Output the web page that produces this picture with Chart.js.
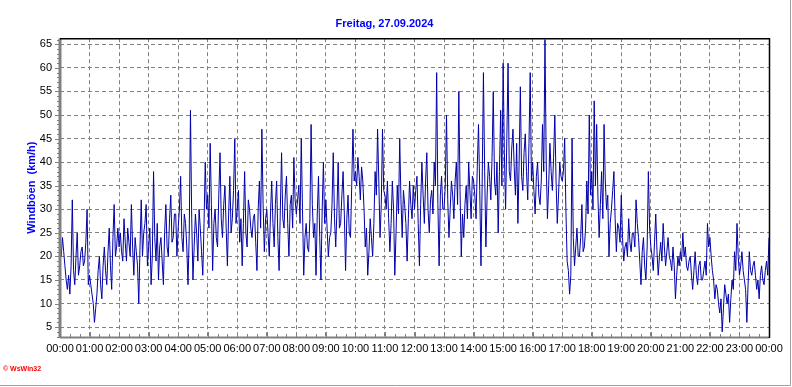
<!DOCTYPE html>
<html>
<head>
<meta charset="utf-8">
<script src="https://cdn.jsdelivr.net/npm/chart.js@4.4.0/dist/chart.umd.min.js"></script>
<style>
  html, body { margin: 0; padding: 0; background: #fff; }
</style>
</head>
<body>
<canvas id="wind-chart" width="792" height="387"></canvas>
<script>
// Hourly tick labels for the x axis
const hourLabels = ['00:00', '01:00', '02:00', '03:00', '04:00', '05:00', '06:00', '07:00',
    '08:00', '09:00', '10:00', '11:00', '12:00', '13:00', '14:00', '15:00', '16:00',
    '17:00', '18:00', '19:00', '20:00', '21:00', '22:00', '23:00', '00:00'];

const yTickValues = [5, 10, 15, 20, 25, 30, 35, 40, 45, 50, 55, 60, 65];

// Wind gusts (km/h), one reading every 2.5 minutes (24 per hour)
const minutesPerSample = 2.5;
const gusts = [
    22, 20, 24, 21, 18, 15, 13, 16, 12, 18, 32, 17, 14, 20, 25, 16, 18, 21, 22, 18, 19, 23, 30, 14,
    16, 14, 12, 10, 6, 9, 12, 17, 20, 14, 11, 18, 22, 17, 14, 21, 26, 18, 13, 24, 31, 20, 22, 26,
    22, 25, 21, 19, 28, 23, 19, 26, 23, 20, 31, 22, 16, 24, 21, 18, 10, 22, 32, 20, 25, 27, 31, 18,
    22, 26, 14, 20, 38, 24, 19, 27, 15, 22, 24, 19, 14, 25, 31, 22, 20, 28, 33, 23, 24, 29, 29, 20,
    26, 30, 37, 24, 21, 29, 27, 22, 14, 25, 51, 28, 15, 22, 29, 25, 19, 30, 26, 21, 16, 27, 40, 30,
    33, 26, 44, 31, 17, 27, 30, 24, 22, 33, 42, 28, 24, 31, 35, 26, 18, 29, 37, 25, 28, 34, 45, 27,
    30, 34, 23, 28, 18, 27, 38, 25, 22, 32, 30, 26, 24, 28, 29, 23, 17, 30, 36, 26, 47, 31, 21, 28,
    30, 25, 20, 29, 36, 27, 22, 31, 36, 24, 17, 30, 42, 28, 26, 33, 37, 27, 20, 31, 33, 26, 41, 32,
    29, 32, 35, 27, 45, 30, 16, 24, 27, 22, 21, 28, 48, 31, 24, 27, 16, 29, 37, 24, 15, 30, 40, 27,
    32, 26, 20, 24, 25, 31, 42, 28, 22, 30, 40, 26, 27, 33, 38, 29, 17, 28, 33, 25, 24, 35, 47, 36,
    38, 35, 41, 37, 32, 39, 36, 30, 22, 26, 16, 21, 28, 24, 20, 27, 38, 33, 47, 36, 24, 31, 47, 34,
    33, 30, 36, 28, 21, 27, 36, 30, 16, 25, 35, 29, 45, 32, 24, 34, 31, 27, 19, 28, 36, 31, 28, 35,
    30, 34, 37, 27, 18, 31, 40, 33, 27, 36, 42, 30, 25, 32, 34, 29, 40, 35, 59, 31, 18, 33, 37, 30,
    30, 35, 50, 32, 24, 30, 36, 33, 28, 36, 40, 31, 55, 34, 20, 29, 24, 31, 35, 28, 40, 34, 28, 37,
    36, 33, 28, 39, 48, 34, 18, 36, 59, 38, 22, 33, 40, 37, 32, 41, 55, 36, 33, 40, 25, 38, 51, 35,
    61, 42, 30, 45, 61, 38, 36, 43, 47, 39, 33, 44, 27, 40, 56, 37, 34, 42, 46, 38, 32, 44, 59, 36,
    40, 34, 29, 37, 40, 33, 31, 36, 48, 38, 66, 40, 28, 35, 44, 38, 34, 41, 50, 36, 27, 33, 40, 37,
    36, 38, 45, 30, 19, 17, 12, 16, 45, 24, 18, 22, 26, 20, 20, 24, 31, 21, 22, 26, 36, 29, 50, 33,
    38, 30, 53, 35, 48, 33, 24, 31, 38, 28, 48, 36, 30, 33, 20, 27, 30, 34, 38, 28, 21, 27, 26, 23,
    33, 24, 19, 22, 23, 20, 28, 23, 21, 25, 25, 22, 32, 27, 24, 19, 14, 21, 24, 18, 15, 22, 38, 26,
    22, 20, 17, 23, 29, 21, 16, 20, 23, 19, 27, 22, 18, 21, 24, 20, 19, 17, 22, 18, 11, 16, 20, 18,
    21, 19, 25, 20, 22, 18, 17, 19, 20, 16, 13, 17, 21, 16, 14, 18, 19, 15, 15, 17, 19, 16, 27, 22,
    24, 20, 17, 15, 11, 14, 13, 10, 8, 11, 4, 9, 14, 12, 10, 12, 6, 11, 15, 13, 21, 17, 27, 20,
    16, 18, 21, 17, 15, 13, 6, 14, 21, 17, 16, 18, 19, 16, 13, 15, 11, 16, 18, 15, 14, 17, 19, 16,
    24
];

const points = gusts.map((v, i) => ({ x: i * minutesPerSample, y: v }));

const gridColor = '#808080';

/**
 * Axis lines, minor ticks, frame and the WsWin32 mark
 */
const wswinFrame = {
    id: 'wswinFrame',
    afterDraw(chart) {
        const ctx = chart.ctx;
        const area = chart.chartArea;
        const xs = chart.scales.x;
        const ys = chart.scales.y;
        ctx.save();

        // left axis (grey) with minor ticks
        ctx.strokeStyle = gridColor;
        ctx.lineWidth = 3;
        ctx.beginPath();
        ctx.moveTo(area.left, area.top);
        ctx.lineTo(area.left, area.bottom + 1);
        ctx.stroke();
        ctx.lineWidth = 1;
        ctx.beginPath();
        for (let v = Math.ceil(ys.min); v <= Math.floor(ys.max); v++) {
            const y = Math.round(ys.getPixelForValue(v)) + 0.5;
            const len = v % 5 === 0 ? 5 : 3;
            ctx.moveTo(area.left - len, y);
            ctx.lineTo(area.left, y);
        }
        ctx.stroke();

        // bottom axis (grey) with ticks pointing up
        ctx.lineWidth = 2;
        ctx.beginPath();
        ctx.moveTo(area.left, area.bottom + 0.5);
        ctx.lineTo(area.right, area.bottom + 0.5);
        ctx.stroke();
        ctx.lineWidth = 1;
        ctx.beginPath();
        for (let m = 0; m <= 1440; m += 20) {
            const x = Math.round(xs.getPixelForValue(m)) + 0.5;
            const len = m % 60 === 0 ? 5 : 3;
            ctx.moveTo(x, area.bottom);
            ctx.lineTo(x, area.bottom - len);
        }
        ctx.stroke();

        // top and right border (black)
        ctx.strokeStyle = '#000';
        ctx.lineWidth = 1.5;
        ctx.beginPath();
        ctx.moveTo(area.left, area.top + 0.5);
        ctx.lineTo(area.right + 0.5, area.top + 0.5);
        ctx.lineTo(area.right + 0.5, area.bottom + 1);
        ctx.stroke();

        // outer frame, bottom and right
        ctx.strokeStyle = '#a0a0a0';
        ctx.lineWidth = 1;
        ctx.beginPath();
        ctx.moveTo(0, chart.height - 1.5);
        ctx.lineTo(chart.width - 1.5, chart.height - 1.5);
        ctx.lineTo(chart.width - 1.5, 0);
        ctx.stroke();

        // copyright mark
        ctx.fillStyle = '#ff0000';
        ctx.font = 'bold 7px "Liberation Sans", Arial, sans-serif';
        ctx.textBaseline = 'middle';
        ctx.fillText('\u00a9 WsWin32', 3, 369);

        ctx.restore();
    }
};

const canvas = document.getElementById('wind-chart');
const ctx = canvas.getContext('2d');

const windChart = new Chart(ctx, {
    type: 'line',
    data: {
        datasets: [{
            label: 'Windböen',
            data: points,
            borderColor: '#0000a8',
            borderWidth: 1,
            pointRadius: 0,
            tension: 0,
            fill: false
        }]
    },
    options: {
        responsive: false,
        animation: false,
        events: [],
        layout: { padding: { left: 0, right: 23, top: 0, bottom: 0 } },
        plugins: {
            legend: { display: false },
            tooltip: { enabled: false },
            title: {
                display: true,
                text: 'Freitag, 27.09.2024',
                color: '#0000ff',
                font: { family: '"Liberation Sans", Arial, sans-serif', size: 11, weight: 'bold' },
                padding: { top: 17, bottom: 8 }
            }
        },
        scales: {
            x: {
                type: 'linear',
                min: 0,
                max: 1440,
                afterBuildTicks: scale => {
                    scale.ticks = hourLabels.map((_, i) => ({ value: i * 60 }));
                },
                afterFit: scale => { scale.height = 50; },
                ticks: {
                    autoSkip: false,
                    maxRotation: 0,
                    padding: 5,
                    color: '#000',
                    font: { family: '"Liberation Sans", Arial, sans-serif', size: 11 },
                    callback: value => hourLabels[Math.round(value / 60)]
                },
                grid: { color: gridColor, lineWidth: 1, drawTicks: false },
                border: { display: false, dash: [4, 3] }
            },
            y: {
                type: 'linear',
                min: 2.9,
                max: 66.3,
                afterBuildTicks: scale => {
                    scale.ticks = yTickValues.map(v => ({ value: v }));
                },
                afterFit: scale => { scale.width = 60; },
                ticks: {
                    padding: 8,
                    color: '#000',
                    font: { family: '"Liberation Sans", Arial, sans-serif', size: 11 }
                },
                title: {
                    display: true,
                    text: 'Windböen  (km/h)',
                    color: '#0000ff',
                    font: { family: '"Liberation Sans", Arial, sans-serif', size: 11, weight: 'bold' },
                    padding: { top: 25, bottom: 0 }
                },
                grid: { color: gridColor, lineWidth: 1, drawTicks: false },
                border: { display: false, dash: [4, 3] }
            }
        }
    },
    plugins: [wswinFrame]
});
</script>
</body>
</html>
